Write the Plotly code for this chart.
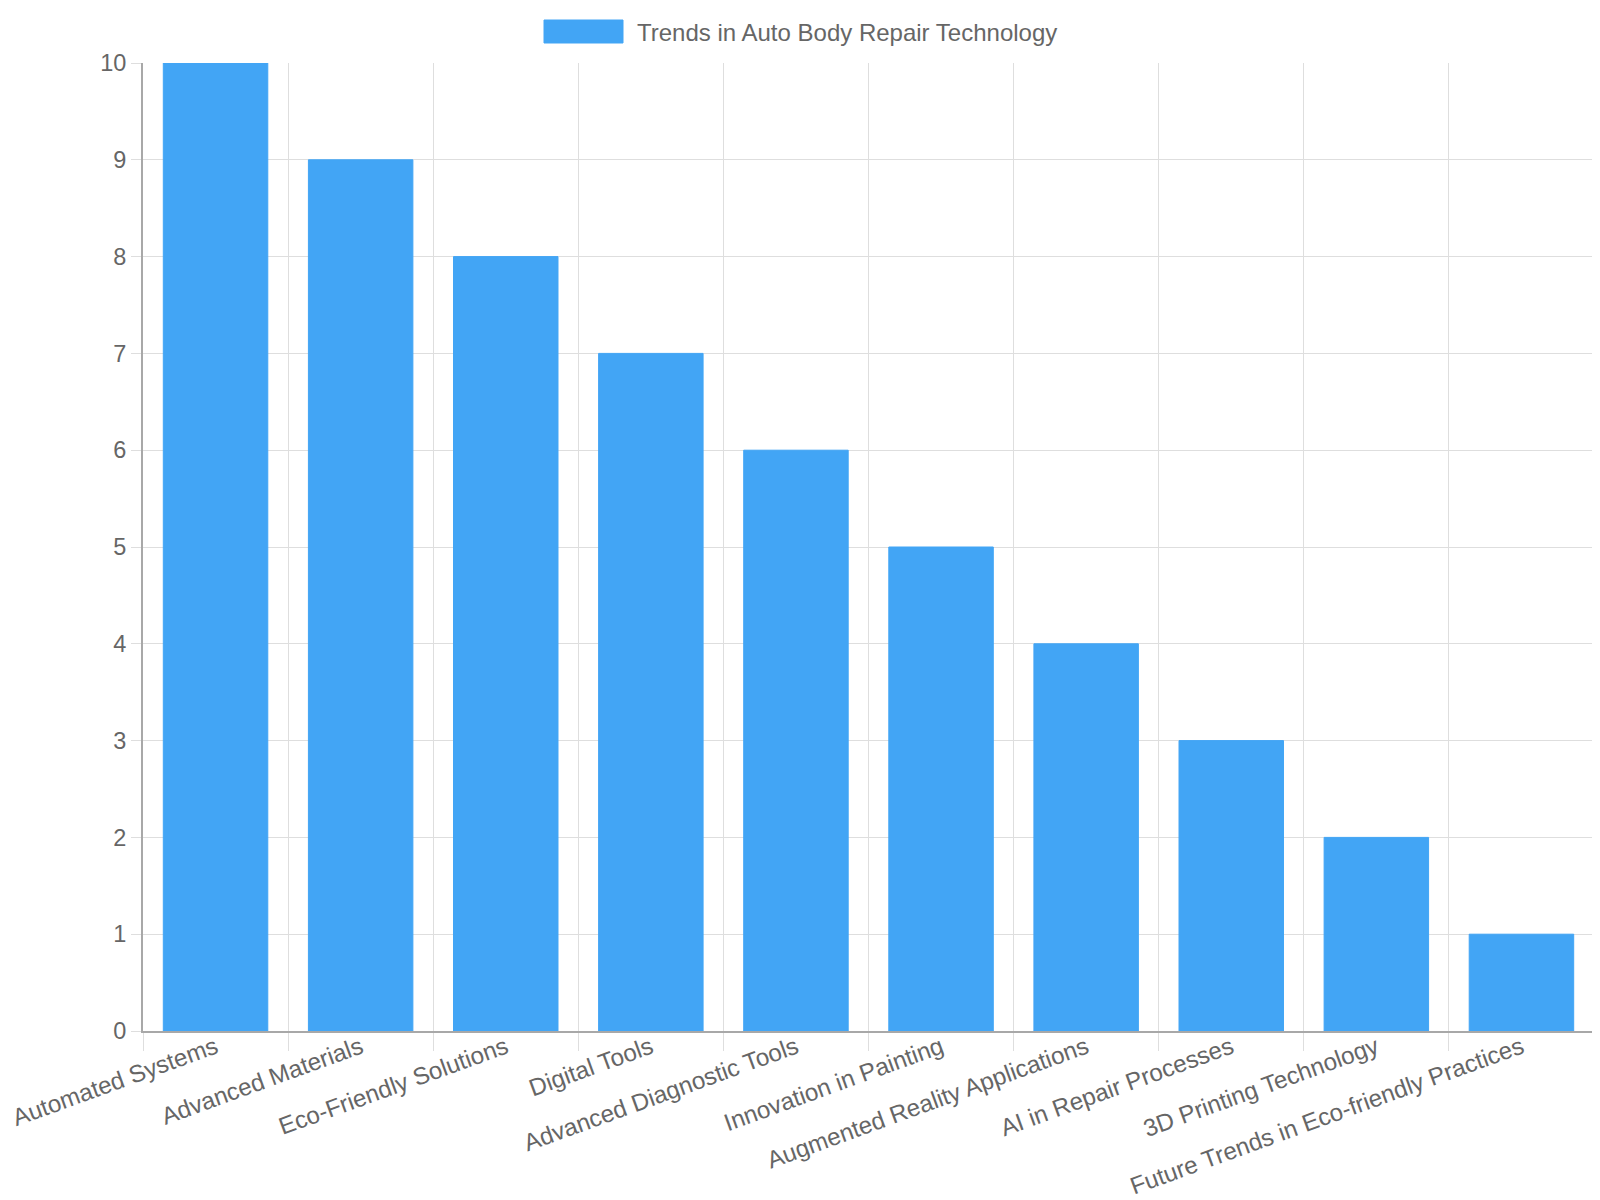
import plotly.graph_objects as go

# Dados do gráfico
categorias = [
    "Automated Systems", "Advanced Materials", "Eco-Friendly Solutions",
    "Digital Tools", "Advanced Diagnostic Tools", "Innovation in Painting",
    "Augmented Reality Applications", "AI in Repair Processes",
    "3D Printing Technology", "Future Trends in Eco-friendly Practices",
]
valores = [10, 9, 8, 7, 6, 5, 4, 3, 2, 1]
nome_serie = "Trends in Auto Body Repair Technology"

AZUL = "#42a5f5"
CINZA_TEXTO = "#666666"
CINZA_GRADE = "#dedede"
CINZA_EIXO = "#a8a8a8"
FONTE = "Liberation Sans, Arial, sans-serif"

W, H = 1600, 1200
ML, MR, MT, MB = 135, 14, 55, 177
PW, PH = W - ML - MR, H - MT - MB


def px_x(x):
    return (x - ML) / PW


def px_y(y):
    return 1 + (MT - y) / PH


fig = go.Figure(go.Bar(
    x=categorias, y=valores, name=nome_serie,
    marker=dict(color=AZUL, line=dict(color=AZUL, width=1)),
    width=0.72, showlegend=False,
))

fig.update_layout(
    width=W, height=H,
    margin=dict(l=ML, r=MR, t=MT, b=MB),
    plot_bgcolor="white", paper_bgcolor="white",
    font=dict(family=FONTE, size=23, color=CINZA_TEXTO),
    xaxis=dict(
        automargin=False,
        tickson="boundaries", showgrid=True, gridcolor=CINZA_GRADE, gridwidth=1,
        ticks="outside", ticklen=18, tickcolor=CINZA_GRADE, tickwidth=1,
        showline=True, linecolor=CINZA_EIXO, linewidth=2,
        tickangle=-20, ticklabelstandoff=-9,
        tickfont=dict(size=24.2, color=CINZA_TEXTO),
    ),
    yaxis=dict(
        automargin=False,
        range=[0, 10], dtick=1, showgrid=True, gridcolor=CINZA_GRADE, gridwidth=1,
        ticks="outside", ticklen=10, tickcolor=CINZA_GRADE,
        showline=True, linecolor=CINZA_EIXO, linewidth=2, zeroline=False,
        tickfont=dict(size=23.5, color=CINZA_TEXTO),
    ),
)

# Legenda no estilo Chart.js (caixa larga + texto)
fig.add_shape(type="rect", xref="paper", yref="paper",
              x0=px_x(536), x1=px_x(615), y0=px_y(35), y1=px_y(12),
              fillcolor=AZUL, line=dict(color=AZUL, width=1))
fig.add_annotation(text=nome_serie, xref="paper", yref="paper",
                   x=px_x(627), y=px_y(24),
                   xanchor="left", yanchor="middle", showarrow=False,
                   font=dict(size=24, color=CINZA_TEXTO, family=FONTE))

fig.write_html("out.html")
